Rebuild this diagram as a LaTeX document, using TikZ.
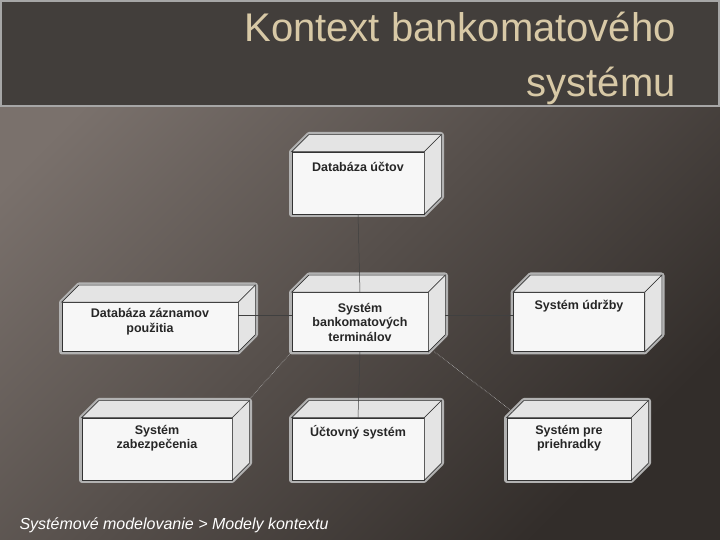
\documentclass[tikz,border=0pt]{standalone}
\usepackage{fontspec}
\setmainfont{Liberation Sans}
\usetikzlibrary{positioning, calc, arrows.meta}
\definecolor{bgtop}{HTML}{7A716C}
\definecolor{bgbot}{HTML}{322D2A}
\definecolor{titlefill}{HTML}{423E3B}
\definecolor{titletext}{HTML}{D8C9A6}
\definecolor{faceA}{HTML}{F7F7F7}
\definecolor{faceB}{HTML}{E4E4E4}
\tikzset{
  nodebox/.style={draw=black!80, fill=faceA, line width=0.6pt, inner sep=0pt},
  face/.style={draw=black!80, fill=faceB, line width=0.6pt},
  glow/.style={draw=gray!60, line width=6pt, line join=round, fill=gray!60},
  lbl/.style={font=\bfseries\fontsize{12.5}{14.5}\selectfont, align=center, text=black!85},
  link/.style={draw=black!75, line width=0.5pt},
  dlink/.style={draw=gray!60, line width=0.6pt, densely dotted}
}
% 3D UML node: name, x, y, width, height
\newcommand{\umlnode}[5]{%
  \fill[glow] ({#2-#4/2},{#3-#5/2}) -- ({#2-#4/2},{#3+#5/2}) -- ({#2-#4/2+17},{#3+#5/2+17})
    -- ({#2+#4/2+17},{#3+#5/2+17}) -- ({#2+#4/2+17},{#3-#5/2+17}) -- ({#2+#4/2},{#3-#5/2}) -- cycle;
  \node[nodebox, minimum width=#4pt, minimum height=#5pt] (#1) at (#2,#3) {};
  \filldraw[face] (#1.north west) -- ++(17,17) -- ($(#1.north east)+(17,17)$) -- (#1.north east) -- cycle;
  \filldraw[face] (#1.north east) -- ++(17,17) -- ($(#1.south east)+(17,17)$) -- (#1.south east) -- cycle;
}
\begin{document}
\begin{tikzpicture}[x=1pt, y=1pt]
    \useasboundingbox (0,0) rectangle (720,540);
    \shade[top color=bgtop, bottom color=bgbot, shading angle=45] (0,0) rectangle (720,540);
    % title bar
    \filldraw[fill=titlefill, draw=gray!70, line width=2pt] (1,434) rectangle (719,539);
    \node[anchor=north east, align=right, text=titletext, font=\fontsize{40}{55}\selectfont, inner sep=0pt] (title) at (676,528) {Kontext bankomatového\\systému};

    % nodes
    \umlnode{DB}{358}{357}{132}{62}
    \umlnode{SYS}{360}{218}{136}{59}
    \umlnode{DBZ}{150}{213}{176}{49}
    \umlnode{UDR}{579}{218}{131}{59}
    \umlnode{ZAB}{157}{91}{150}{62}
    \umlnode{UCT}{358}{91}{132}{62}
    \umlnode{PRI}{569}{91}{124}{62}

    % labels
    \node[lbl, below=7pt of DB.north] (DB-t) {Databáza účtov};
    \node[lbl] (SYS-t) at (SYS) {Systém\\bankomatových\\terminálov};
    \node[lbl, below=3pt of DBZ.north] (DBZ-t) {Databáza záznamov\\použitia};
    \node[lbl, below=4pt of UDR.north] (UDR-t) {Systém údržby};
    \node[lbl, below=4pt of ZAB.north] (ZAB-t) {Systém\\zabezpečenia};
    \node[lbl, below=4pt of UCT.north] (UCT-t) {Účtovný systém};
    \node[lbl, below=4pt of PRI.north] (PRI-t) {Systém pre\\priehradky};

    % connectors
    \draw[link] (DB.south) -- (SYS.north);
    \draw[link] (SYS.south) -- (UCT.north);
    \draw[link] (SYS.west |- 0,225) -- (DBZ.east |- 0,225);
    \draw[link] ($(SYS.east)+(17,7)$) -- (UDR.west |- 0,225);
    \draw[dlink] (SYS.south west) -- ($(ZAB.north east)+(6,6)$);
    \draw[dlink] ($(SYS.south east)+(6,0)$) -- ($(PRI.north west)+(6,6)$);

    % footer
    \node[anchor=west, text=white, font=\itshape\fontsize{16}{18}\selectfont] (foot) at (16,15) {Systémové modelovanie > Modely kontextu};
\end{tikzpicture}
\end{document}
